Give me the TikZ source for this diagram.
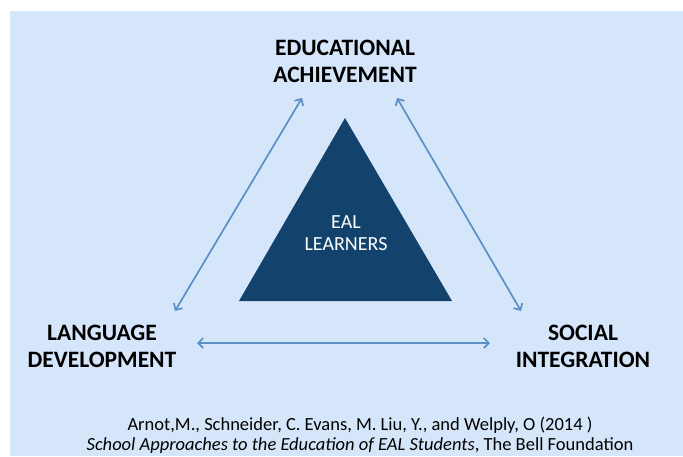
\documentclass[tikz,border=0pt]{standalone}
\usepackage{fontspec}
\setmainfont{Carlito}
\usetikzlibrary{arrows.meta,positioning}

\definecolor{bgblue}{RGB}{214,230,250}
\definecolor{triblue}{RGB}{19,67,108}
\definecolor{arrblue}{RGB}{92,143,198}

\begin{document}
\begin{tikzpicture}[
x=1pt,y=-1pt,
corner/.style={
  font=\fontsize{23.5}{27}\selectfont\bfseries,
  align=center,
  inner sep=0pt
  },
link/.style={
  draw=arrblue,
  line width=1.7pt,
  <->
  },
>={Straight Barb[length=5pt,width=10pt]}
]
\useasboundingbox (0,0) rectangle (683,456);
\fill[bgblue] (10,11) rectangle (683,456);
% central triangle
\fill[triblue] (345,118) -- (452,301) -- (239,301) -- cycle;
\node[text=white,font=\fontsize{20}{22}\selectfont,align=center,inner sep=0pt] (eal) at (346,233) {EAL\\LEARNERS};
% the three corners
\node[corner] (edu) at (345,61) {EDUCATIONAL\\ACHIEVEMENT};
\node[corner] (lang) at (102,346) {LANGUAGE\\DEVELOPMENT};
\node[corner] (soc) at (583,346) {SOCIAL\\INTEGRATION};
\coordinate (edu-l) at (302,98);
\coordinate (edu-r) at (397,98);
\coordinate (lang-u) at (175,311);
\coordinate (lang-r) at (197,343);
\coordinate (soc-u) at (521,311);
\coordinate (soc-l) at (490,343);
   \draw[link] (lang-u) -- (edu-l);
   \draw[link] (edu-r) -- (soc-u);
   \draw[link] (lang-r) -- (soc-l);
% reference
\node[font=\fontsize{18.5}{20}\selectfont,align=center,inner sep=0pt] (cite) at (360,435)
  {Arnot,M., Schneider, C. Evans, M. Liu, Y., and Welply, O (2014 )\\
   \textit{School Approaches to the Education of EAL Students}, The Bell Foundation};
\end{tikzpicture}
\end{document}
